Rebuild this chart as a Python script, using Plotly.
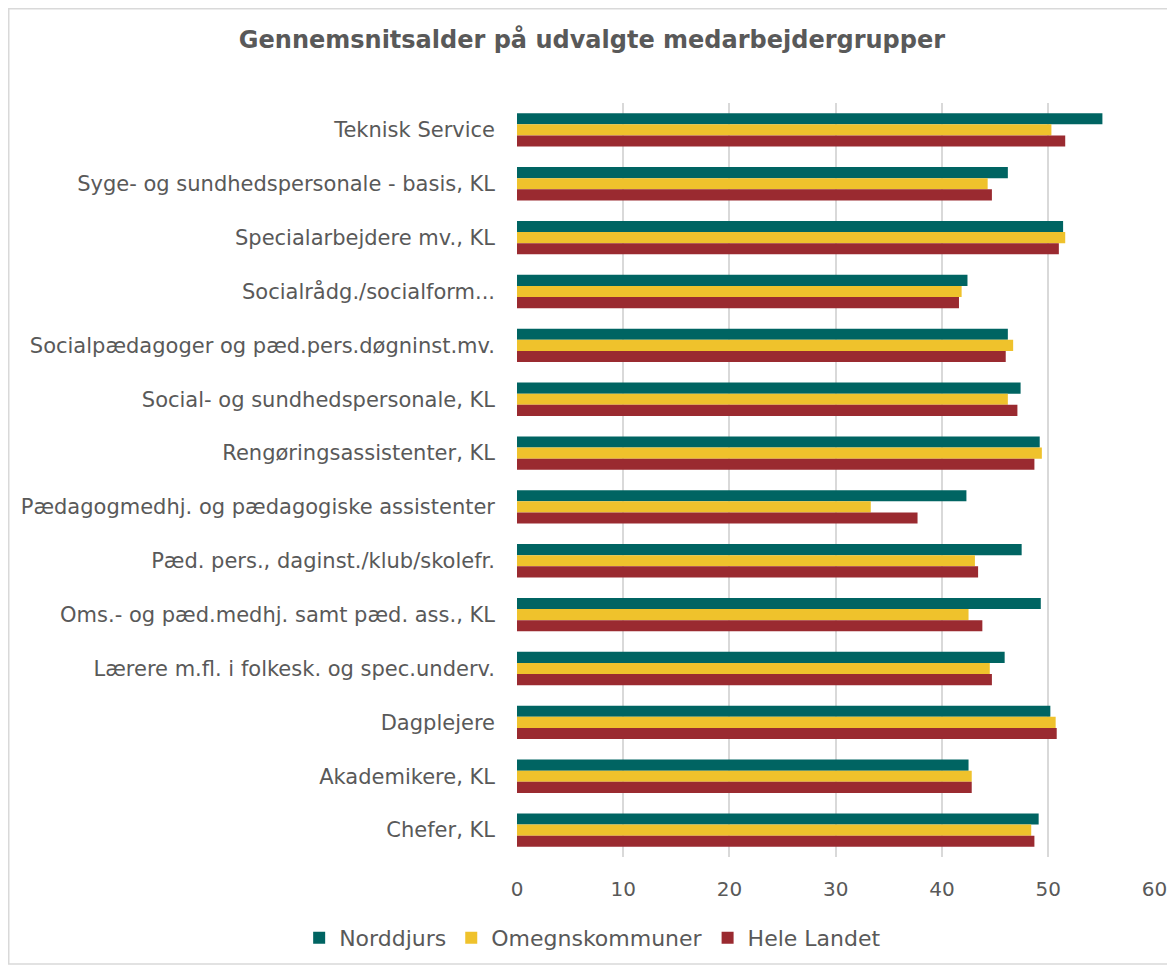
import plotly.graph_objects as go

categories = [
    "Teknisk Service",
    "Syge- og sundhedspersonale - basis, KL",
    "Specialarbejdere mv., KL",
    "Socialrådg./socialform...",
    "Socialpædagoger og pæd.pers.døgninst.mv.",
    "Social- og sundhedspersonale, KL",
    "Rengøringsassistenter, KL",
    "Pædagogmedhj. og pædagogiske assistenter",
    "Pæd. pers., daginst./klub/skolefr.",
    "Oms.- og pæd.medhj. samt pæd. ass., KL",
    "Lærere m.fl. i folkesk. og spec.underv.",
    "Dagplejere",
    "Akademikere, KL",
    "Chefer, KL",
]
norddjurs = [55.1, 46.2, 51.4, 42.4, 46.2, 47.4, 49.2, 42.3, 47.5, 49.3, 45.9, 50.2, 42.5, 49.1]
omegn = [50.3, 44.3, 51.6, 41.85, 46.7, 46.2, 49.4, 33.3, 43.1, 42.5, 44.5, 50.7, 42.8, 48.4]
hele = [51.6, 44.7, 51.0, 41.6, 46.0, 47.1, 48.7, 37.7, 43.4, 43.8, 44.7, 50.8, 42.8, 48.7]
series_names = ["Norddjurs", "Omegnskommuner", "Hele Landet"]
colors = ["#006462", "#EFC22C", "#9A2A30"]
ticks = [0, 10, 20, 30, 40, 50, 60]

# page has an 8px body margin, so the figure is offset by 8px
W, H = 1167, 957
ML, MR, MT, MB = 509, 20, 95, 108
FONT = "DejaVu Sans, Verdana, sans-serif"
GREY = "#595959"

fig = go.Figure()
for name, vals, col in zip(series_names, [norddjurs, omegn, hele], colors):
    fig.add_trace(go.Bar(
        y=categories, x=vals, name=name, orientation="h",
        marker=dict(color=col, line=dict(width=0)),
    ))

pw = W - ML - MR
ph = H - MT - MB
fig.add_shape(
    type="rect", xref="paper", yref="paper",
    x0=(0.75 - ML) / pw, x1=(W - 1 - ML) / pw,
    y0=(H - MB - (H - 1)) / ph, y1=(H - MB - 0.75) / ph,
    line=dict(color="#D9D9D9", width=1.5), fillcolor="rgba(0,0,0,0)", layer="below",
)

fig.update_layout(
    width=W, height=H,
    margin=dict(l=ML, r=MR, t=MT, b=MB, autoexpand=False),
    paper_bgcolor="white", plot_bgcolor="white",
    barmode="group", bargap=0.38, bargroupgap=0,
    font=dict(family=FONT, size=20, color=GREY),
    title=dict(text="<b>Gennemsnitsalder på udvalgte medarbejdergrupper</b>",
               x=0.5004, xanchor="center", y=1 - 32 / H, yanchor="middle",
               font=dict(size=24, color=GREY, family=FONT)),
    xaxis=dict(range=[0, 60.05], tickvals=ticks, showgrid=True, gridcolor="#D9D9D9",
               gridwidth=1.5, zeroline=False, showline=False, ticks="",
               ticklabelstandoff=18, tickfont=dict(size=20, color=GREY)),
    yaxis=dict(autorange="reversed", showline=False, ticks="", ticklabelstandoff=21,
               tickfont=dict(size=21, color=GREY), showgrid=False),
    legend=dict(orientation="h", x=0.501, xanchor="center", xref="container",
                y=1 - 930 / H, yanchor="middle", yref="container",
                font=dict(size=22, color=GREY), itemwidth=30, traceorder="normal"),
    showlegend=True,
)

fig.write_html("out.html")
